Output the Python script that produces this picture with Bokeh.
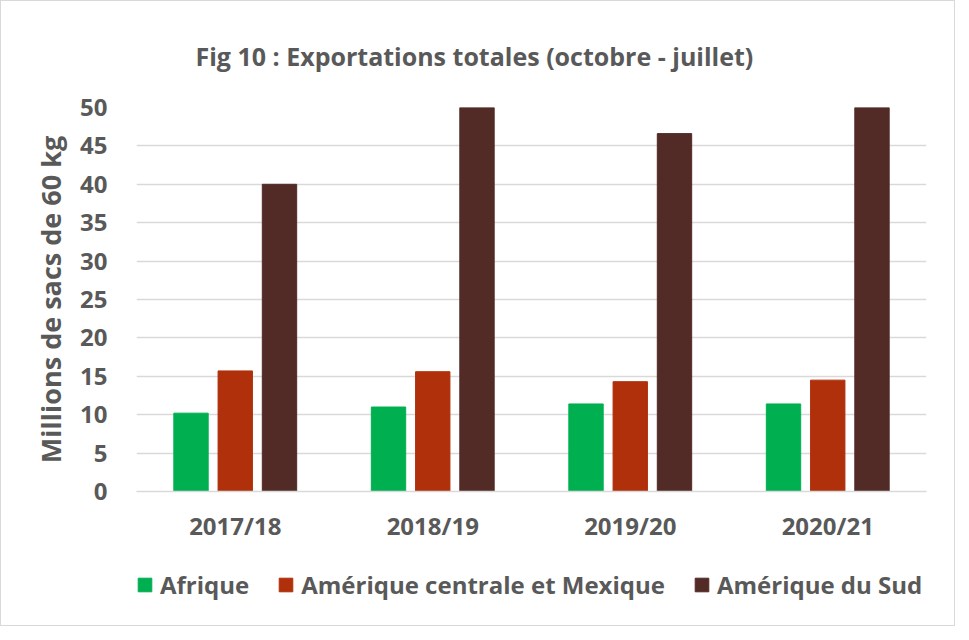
from bokeh.plotting import figure
from bokeh.models import ColumnDataSource, FactorRange, Range1d, Legend, LegendItem, SingleIntervalTicker
from bokeh.layouts import column
from bokeh.transform import dodge
from bokeh.embed import file_html
from bokeh.resources import INLINE

years = ["2017/18", "2018/19", "2019/20", "2020/21"]
afrique = [10.2, 11.0, 11.4, 11.4]
amerique_centrale = [15.7, 15.6, 14.3, 14.5]
amerique_sud = [40.0, 50.0, 46.6, 50.0]
series_names = ["Afrique", "Amérique centrale et Mexique", "Amérique du Sud"]
colors = ["#00b050", "#b0300c", "#522a26"]

FONT = "Open Sans"
TXT = "#595959"

src = ColumnDataSource(dict(year=years, a=afrique, c=amerique_centrale, s=amerique_sud))

p = figure(x_range=FactorRange(*years), y_range=Range1d(0, 50),
           width=953, height=560, output_backend="svg", toolbar_location=None,
           min_border_left=135, min_border_right=28, min_border_top=92, min_border_bottom=70,
           title="Fig 10 : Exportations totales (octobre - juillet)")
p.x_range.range_padding = 0.0

cols = ["a", "c", "s"]
offsets = [-0.224, 0.0, 0.224]
for col, off, color in zip(cols, offsets, colors):
    p.vbar(x=dodge("year", off, range=p.x_range), top=col, width=0.174, source=src,
           fill_color=color, line_color=color)

p.title.text_font = FONT
p.title.text_font_size = "25px"
p.title.text_font_style = "bold"
p.title.text_color = TXT
p.title.align = "left"
p.title.offset = 59
p.title.standoff = 70

p.outline_line_color = None
p.xgrid.grid_line_color = None
p.ygrid.grid_line_color = "#d9d9d9"
p.ygrid.grid_line_width = 1.5

p.yaxis.ticker = SingleIntervalTicker(interval=5)
p.yaxis.axis_line_color = None
p.yaxis.major_tick_line_color = None
p.yaxis.minor_tick_line_color = None
p.yaxis.major_label_text_font = FONT
p.yaxis.major_label_text_font_size = "24px"
p.yaxis.major_label_text_font_style = "bold"
p.yaxis.major_label_text_color = TXT
p.yaxis.major_label_standoff = 23
p.yaxis.axis_label = "Millions de sacs de 60 kg"
p.yaxis.axis_label_text_font = FONT
p.yaxis.axis_label_text_font_size = "27px"
p.yaxis.axis_label_text_font_style = "bold"
p.yaxis.axis_label_text_color = TXT
p.yaxis.axis_label_standoff = 8

p.xaxis.axis_line_color = "#d9d9d9"
p.xaxis.axis_line_width = 1.5
p.xaxis.major_tick_line_color = None
p.xaxis.minor_tick_line_color = None
p.xaxis.major_label_text_font = FONT
p.xaxis.major_label_text_font_size = "24px"
p.xaxis.major_label_text_font_style = "bold"
p.xaxis.major_label_text_color = TXT
p.xaxis.major_label_standoff = 11

# Legend strip below the chart (same series, drawn out of view; only the legend shows)
leg = figure(width=953, height=64, output_backend="svg", toolbar_location=None,
             x_range=p.x_range, y_range=Range1d(100, 101),
             min_border_left=135, min_border_right=28, min_border_top=0, min_border_bottom=0)
leg.axis.visible = False
leg.grid.visible = False
leg.outline_line_color = None
items = []
for name, col, off, color in zip(series_names, cols, offsets, colors):
    r = leg.vbar(x=dodge("year", off, range=p.x_range), top=col, width=0.174, source=src,
                 fill_color=color, line_color=color)
    items.append(LegendItem(label=name, renderers=[r]))
legend = Legend(items=items, orientation="horizontal", location=(0, 24))
legend.label_text_font = FONT
legend.label_text_font_size = "24px"
legend.label_text_font_style = "bold"
legend.label_text_color = TXT
legend.glyph_width = 17
legend.glyph_height = 17
legend.spacing = 28
legend.label_standoff = 7
legend.padding = 0
legend.margin = 0
legend.border_line_color = None
legend.background_fill_alpha = 0
leg.add_layout(legend, "center")

layout = column(p, leg, spacing=0, styles={"border": "1px solid #d9d9d9"})

open("out.html", "w").write(file_html(layout, INLINE))
